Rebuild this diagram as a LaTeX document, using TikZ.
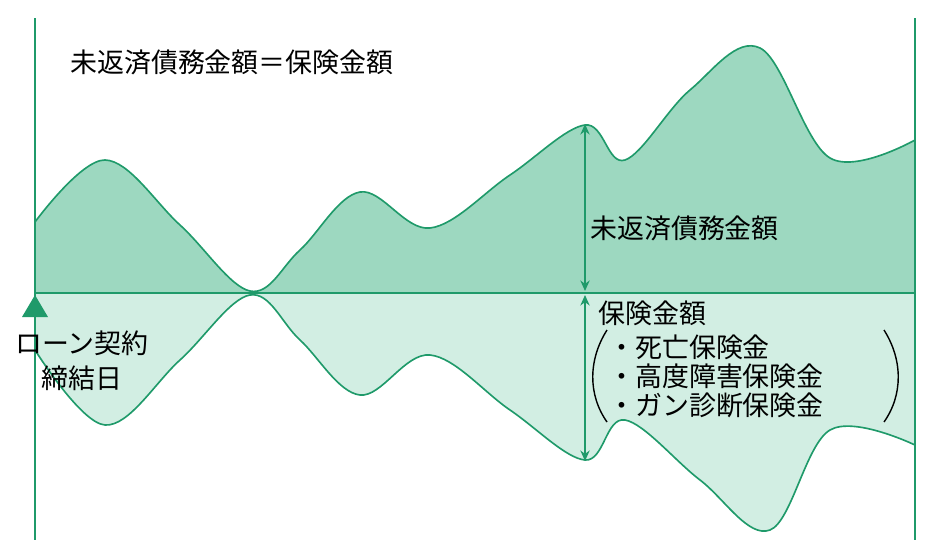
\documentclass[tikz,border=0pt]{standalone}
\usepackage{fontspec}
\setmainfont{Noto Sans CJK JP}
\usetikzlibrary{arrows.meta}
\definecolor{lineg}{HTML}{1F9A6A}
\definecolor{darkg}{HTML}{9DD8C0}
\definecolor{lightg}{HTML}{D2EEE3}
\tikzset{
  curve/.style={draw=lineg, line width=1.4pt},
  label/.style={font=\fontsize{23pt}{25pt}\selectfont, inner sep=0pt, anchor=west},
  dimarrow/.style={lineg, line width=1.4pt, {Stealth[length=9pt,width=8pt]}-{Stealth[length=9pt,width=8pt]}}
}
\begin{document}
\begin{tikzpicture}[x=0.03cm, y=-0.03cm]
\useasboundingbox (0,0) rectangle (928,556);
%--- UPPER AREA ---
\fill[darkg] (35,293) -- plot[smooth, tension=0.6] coordinates {(35,222) (105,160) (180,225) (250,291) (300,250) (360,192) (430,228) (510,175) (585,125) (625,160) (690,90) (760,48) (830,158) (915,140)} -- (915,293) -- cycle;
\draw[curve] plot[smooth, tension=0.6] coordinates {(35,222) (105,160) (180,225) (250,291) (300,250) (360,192) (430,228) (510,175) (585,125) (625,160) (690,90) (760,48) (830,158) (915,140)};
%--- LOWER AREA ---
\fill[lightg] (35,293) -- plot[smooth, tension=0.6] coordinates {(35,350) (105,425) (180,360) (250,295) (300,340) (360,395) (430,355) (510,410) (585,460) (625,420) (700,480) (770,530) (830,430) (915,445)} -- (915,293) -- cycle;
\draw[curve] plot[smooth, tension=0.6] coordinates {(35,350) (105,425) (180,360) (250,295) (300,340) (360,395) (430,355) (510,410) (585,460) (625,420) (700,480) (770,530) (830,430) (915,445)};
%--- AXES ---
\coordinate (ltop) at (35,18); \coordinate (lbot) at (35,540);
\coordinate (rtop) at (915,18); \coordinate (rbot) at (915,540);
\coordinate (axl) at (35,293); \coordinate (axr) at (915,293);
\draw[curve] (ltop) -- (lbot);
\draw[curve] (rtop) -- (rbot);
\draw[curve] (axl) -- (axr);
\fill[lineg] (22,317) -- (48,317) -- (35,295) -- cycle;
%--- ARROWS ---
\coordinate (utop) at (585,124); \coordinate (ubot) at (585,291);
\coordinate (ltp) at (585,295); \coordinate (lbt) at (585,461);
\draw[dimarrow] (utop) -- (ubot);
\draw[dimarrow] (ltp) -- (lbt);
%--- PARENTHESES ---
\draw[line width=1.2pt] (607,330) .. controls (588,360) and (588,395) .. (607,422);
\draw[line width=1.2pt] (884,330) .. controls (903,360) and (903,395) .. (884,422);
%--- TEXT ---
\node[label] (title) at (70,62) {未返済債務金額＝保険金額};
\node[label] (debt) at (590,228) {未返済債務金額};
\node[label] (ins) at (598,313) {保険金額};
\node[label] (i1) at (608,347) {・死亡保険金};
\node[label] (i2) at (608,376) {・高度障害保険金};
\node[label] (i3) at (608,405) {・ガン診断保険金};
\node[label, anchor=center] (loan) at (82,343) {ローン契約};
\node[label, anchor=center] (date) at (82,378) {締結日};
\end{tikzpicture}
\end{document}
